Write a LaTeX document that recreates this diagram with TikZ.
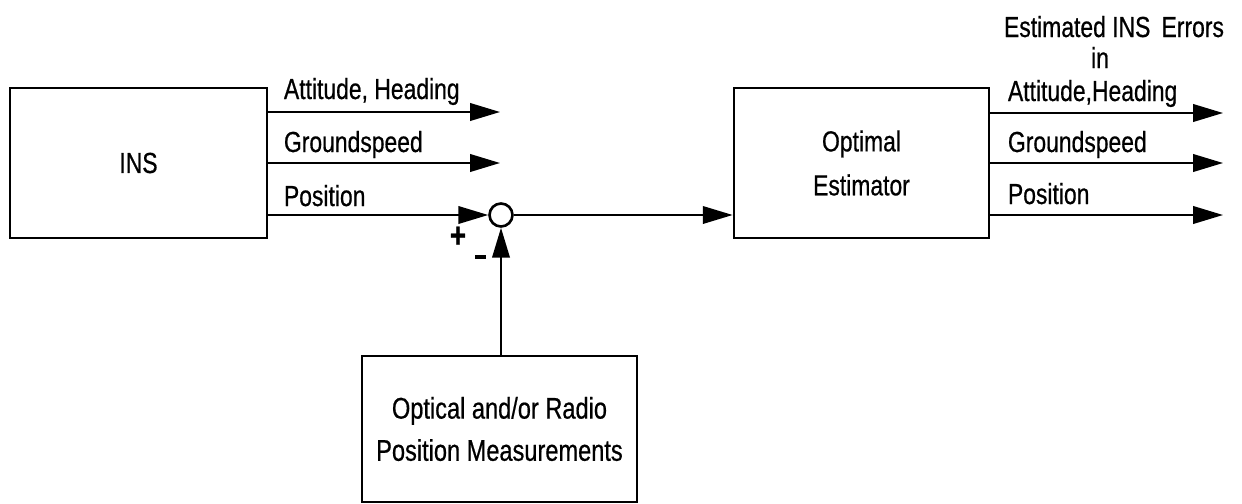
\documentclass[tikz,border=0pt]{standalone}
\usepackage{fontspec}
\setmainfont{Liberation Sans}[FakeStretch=0.79, FakeBold=0.6]
\usetikzlibrary{arrows.meta,positioning}

\tikzset{
    blok/.style={draw, line width=1.6pt, inner sep=0pt, align=center, font=\fontsize{16.5}{25}\selectfont},
    lbl/.style={inner sep=0pt, anchor=base west, font=\fontsize{16.5}{18}\selectfont},
}

\begin{document}
\begin{tikzpicture}[x=0.02cm, y=-0.02cm, >={Triangle[length=17pt,width=10pt]}, line width=1.1pt]
    \useasboundingbox (0,0) rectangle (1242,504);

    % 三个方框
    \node[blok, minimum width=5.14cm, minimum height=3cm] (ins) at (138.5,163) {INS};
    \node[blok, minimum width=5.1cm, minimum height=3cm] (est) at (861.5,163) {Optimal\\Estimator};
    \node[blok, minimum width=5.5cm, minimum height=2.92cm, font=\fontsize{17}{24}\selectfont] (meas) at (499.5,429) {Optical and/or Radio\\Position Measurements};

    % 求和点及符号
    \node[draw, circle, line width=1.5pt, minimum size=0.46cm, inner sep=0pt] (sum) at (501,215) {};
    \node[lbl, anchor=center, font=\fontsize{20}{20}\bfseries] (plus) at (458,237) {+};
    \node[fill, inner sep=0pt, minimum width=0.22cm, minimum height=2pt] (minus) at (480,257) {};

    % INS 输出
    \coordinate (a1) at (500,112);
    \coordinate (a2) at (500,163);
    \draw[->] (ins.east |- a1) -- (a1);
    \draw[->] (ins.east |- a2) -- (a2);
    \draw[->] (ins.east |- sum) -- (sum.west);

    % 求和点到估计器, 测量到求和点
    \draw[->] (sum.east) -- (sum -| est.west);
    \draw[->] (meas.north -| sum) -- (sum.south);

    % 估计器输出
    \foreach \y/\n in {113/1, 163/2, 215/3} {
        \coordinate (b\n) at (1223,\y);
        \draw[->] (est.east |- b\n) -- (b\n);
    }

    % 标签
    \node[lbl] (attL) at (283,99) {Attitude, Heading};
    \node[lbl] (gsL) at (283,152) {Groundspeed};
    \node[lbl] (posL) at (283,206) {Position};
    \node[lbl] (attR) at (1007,101) {Attitude,Heading};
    \node[lbl] (gsR) at (1007,152) {Groundspeed};
    \node[lbl] (posR) at (1007,204) {Position};
    \node[lbl, anchor=base] (errL) at (1114,37) {Estimated INS\, Errors};
    \node[lbl, anchor=base] (inL) at (1100,68) {in};
\end{tikzpicture}
\end{document}
